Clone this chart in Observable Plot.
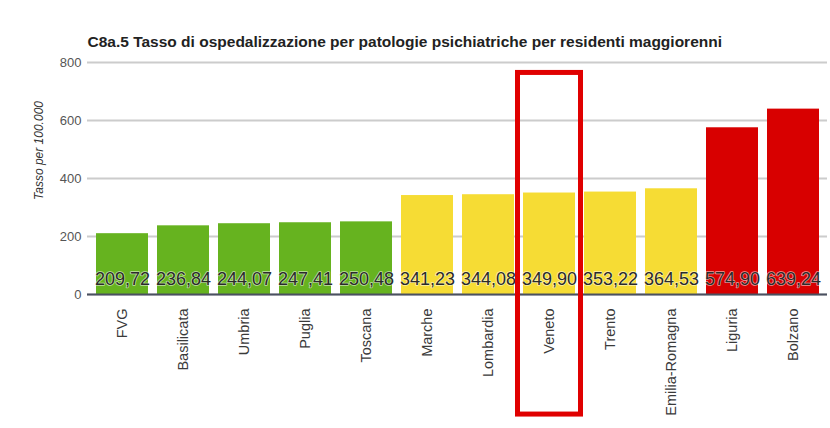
<!DOCTYPE html>
<html><head><meta charset="utf-8">
<script src="https://cdn.jsdelivr.net/npm/d3@7"></script>
<script src="https://cdn.jsdelivr.net/npm/@observablehq/plot@0.6"></script>
<style>body{margin:0;background:#fff;font-family:"Liberation Sans",Arial,sans-serif}</style>
</head><body><div id="chart"></div>
<script>
const regions = ["FVG","Basilicata","Umbria","Puglia","Toscana","Marche","Lombardia","Veneto","Trento","Emilia-Romagna","Liguria","Bolzano"];
const values = [209.72,236.84,244.07,247.41,250.48,341.23,344.08,349.90,353.22,364.53,574.90,639.24];
const bands = ["verde","verde","verde","verde","verde","giallo","giallo","giallo","giallo","giallo","rosso","rosso"];
const highlight = ["Veneto"];
const yTicks = [0,200,400,600,800];
const title = "C8a.5 Tasso di ospedalizzazione per patologie psichiatriche per residenti maggiorenni";
const yLabel = "Tasso per 100.000";

const data = regions.map((r,i)=>({region:r, value:values[i], band:bands[i]}));
const fmt = v => v.toFixed(2).replace(".", ",");

const chart = Plot.plot({
  width: 830, height: 428,
  marginTop: 62, marginBottom: 134, marginLeft: 87, marginRight: 3,
  style: {fontFamily: "Liberation Sans, Arial, sans-serif", background: "#fff"},
  x: {domain: regions, paddingInner: 0.155, paddingOuter: 0.09, label: null},
  y: {domain: [0,800], label: null},
  color: {domain: ["verde","giallo","rosso"], range: ["#66b31f","#f6dc34","#d80000"]},
  marks: [
    Plot.gridY(yTicks, {stroke: "#cccccc", strokeOpacity: 1, strokeWidth: 2}),
    Plot.axisY({ticks: yTicks, tickSize: 0, tickPadding: 6, fontSize: 13, fill: "#555"}),
    Plot.axisX({tickRotate: -90, tickSize: 0, tickPadding: 14, fontSize: 14.5, fill: "#3a3a3a"}),
    Plot.barY(data, {x: "region", y: "value", fill: "band"}),
    Plot.ruleY([0], {stroke: "#4a5060", strokeWidth: 2}),
    Plot.text(data, {x: "region", y: 0, text: d => fmt(d.value), dy: -15.5, fontSize: 18, fill: "#2a2a2a", stroke: "white", strokeWidth: 1.5, strokeOpacity: 0.6}),
    Plot.barY(highlight, {x: d => d, y1: -414, y2: 764, fill: "none", stroke: "#e00000", strokeWidth: 5, insetLeft: -5.5, insetRight: -5.5}),
    Plot.text([title], {frameAnchor: "top-left", dy: -27, fontSize: 15.5, fontWeight: "bold", fill: "#222", textAnchor: "start"}),
    Plot.text([yLabel], {frameAnchor: "left", dx: -48, dy: -28, textAnchor: "middle", rotate: -90, fontSize: 12, fontStyle: "italic", fill: "#333"})
  ]
});
document.getElementById("chart").append(chart);
</script></body></html>
